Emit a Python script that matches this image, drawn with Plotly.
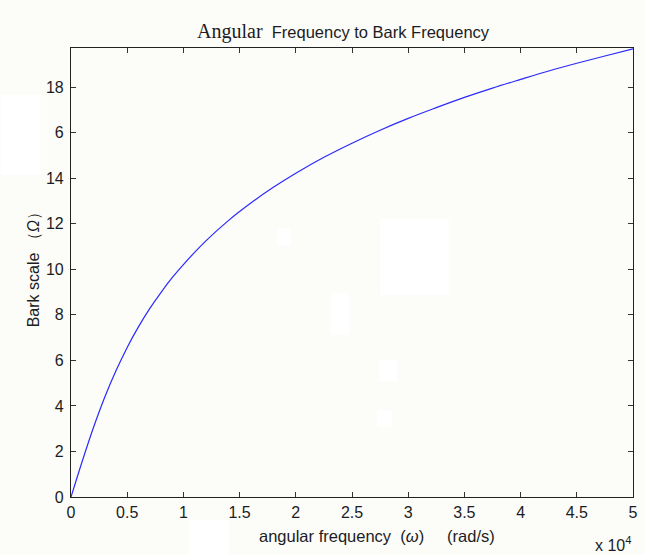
import plotly.graph_objects as go

# Angular frequency (rad/s) and the corresponding Bark scale value
omega = [0, 500, 1000, 2000, 3000, 4000, 5000, 6000, 7000, 8000, 9000,
         10000, 12000, 14000, 16000, 18000, 20000, 22500, 25000, 27500,
         30000, 32500, 35000, 37500, 40000, 42500, 45000, 47500, 50000]
bark = [0.00, 0.79, 1.57, 3.05, 4.38, 5.54, 6.57, 7.47, 8.27, 8.98, 9.63,
        10.21, 11.25, 12.14, 12.91, 13.60, 14.22, 14.92, 15.54, 16.11,
        16.63, 17.10, 17.55, 17.96, 18.34, 18.71, 19.05, 19.37, 19.68]

x_tick_vals = [0, 5000, 10000, 15000, 20000, 25000, 30000, 35000, 40000, 45000, 50000]
x_tick_text = ["0", "0.5", "1", "1.5", "2", "2.5", "3", "3.5", "4", "4.5", "5"]
y_tick_vals = [0, 2, 4, 6, 8, 10, 12, 14, 16, 18]
y_tick_text = ["0", "2", "4", "6", "8", "10", "12", "14", "6", "18"]

W, H = 645, 554
L, R, T, B = 71, 7, 48, 57
PW, PH = W - L - R, H - T - B
BG = "#fcfcf8"
TXT = "#1c1c24"
FONT = "Arial, Liberation Sans, sans-serif"


def px(x):
    return (x - L) / PW


def py(y):
    return (H - B - y) / PH


fig = go.Figure()
fig.add_trace(go.Scatter(
    x=omega, y=bark, mode="lines",
    line=dict(color="#2a2aff", width=1.2, shape="spline"),
    hoverinfo="skip", showlegend=False,
))

axis_common = dict(
    showline=True, linecolor="#222222", linewidth=1.2,
    mirror="allticks", ticks="inside", ticklen=5, tickwidth=1.2,
    tickcolor="#333333", showgrid=False, zeroline=False,
    tickfont=dict(family=FONT, size=16, color=TXT),
)

fig.update_xaxes(range=[0, 50000], tickmode="array", tickvals=x_tick_vals,
                 ticktext=x_tick_text, ticklabelstandoff=1, **axis_common)
fig.update_yaxes(range=[0, 19.72], tickmode="array", tickvals=y_tick_vals,
                 ticktext=y_tick_text, ticklabelstandoff=3, **axis_common)

# faint white blotches on the textured background
patches = [(279, 228, 293, 246), (383, 218, 452, 295), (333, 293, 352, 335),
           (382, 360, 400, 382), (380, 410, 395, 427),
           (0, 95, 40, 175), (190, 520, 230, 554)]
shapes = []
for x0, y0, x1, y1 in patches:
    shapes.append(dict(type="rect", xref="paper", yref="paper",
                       x0=px(x0), x1=px(x1), y0=py(y1), y1=py(y0),
                       fillcolor="white", line=dict(width=0), layer="below"))

annotations = [
    dict(text="<span style='font-family:Times New Roman, Liberation Serif, serif;"
              "font-size:20px'>Angular</span>  Frequency to Bark Frequency",
         x=px(346), y=py(31), xref="paper", yref="paper", showarrow=False,
         xanchor="center", yanchor="middle",
         font=dict(family=FONT, size=16.5, color=TXT)),
    dict(text="Bark scale （<i>Ω</i>）",
         x=px(33), y=py(266), xref="paper", yref="paper", showarrow=False,
         textangle=-90, xanchor="center", yanchor="middle",
         font=dict(family=FONT, size=16, color=TXT)),
    dict(text="angular frequency  (<i>ω</i>)     (rad/s)",
         x=px(380), y=py(536), xref="paper", yref="paper", showarrow=False,
         xanchor="center", yanchor="middle",
         font=dict(family=FONT, size=16.5, color=TXT)),
    dict(text="x 10<sup>4</sup>",
         x=px(638), y=py(544), xref="paper", yref="paper", showarrow=False,
         xanchor="right", yanchor="middle",
         font=dict(family=FONT, size=16, color=TXT)),
]

fig.update_layout(
    width=W, height=H,
    margin=dict(l=L, r=R, t=T, b=B, pad=0),
    paper_bgcolor=BG, plot_bgcolor=BG,
    shapes=shapes, annotations=annotations,
)

fig.write_html("out.html")
